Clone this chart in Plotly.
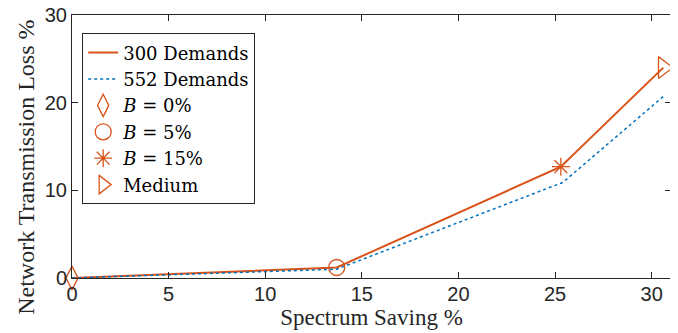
import plotly.graph_objects as go

# Data
x300 = [0, 13.7, 25.3, 30.6]
y300 = [0, 1.2, 12.7, 24.0]
x552 = [0, 13.7, 25.4, 30.6]
y552 = [0, 1.0, 10.9, 20.7]

marker_names = ["<i>B</i> = 0%", "<i>B</i> = 5%", "<i>B</i> = 15%", "Medium"]
marker_x = [0, 13.7, 25.3, 30.6]
marker_y = [0, 1.2, 12.7, 24.0]
marker_symbols = ["diamond-tall-open", "circle-open", "asterisk-open", "triangle-right-open"]
marker_sizes = [17, 16, 15, 19]

x_ticks = [0, 5, 10, 15, 20, 25, 30]
y_ticks = [0, 10, 20, 30]

x_title = "Spectrum Saving %"
y_title = "Network Transmission Loss %"

ORANGE = "#D95319"
BLUE = "#0072BD"
AXC = "#262626"

# The page body has an 8px default margin; size the figure so the plot area
# lands where the reference has it in the 678x333 window.
PAGE_OFF = 8

fig = go.Figure()
fig.add_trace(go.Scatter(x=x300, y=y300, mode="lines", name="300 Demands",
                         line=dict(color=ORANGE, width=2)))
fig.add_trace(go.Scatter(x=x552, y=y552, mode="lines", name="552 Demands",
                         line=dict(color=BLUE, width=1.5, dash="dot")))
for nm, xx, yy, sym, sz in zip(marker_names, marker_x, marker_y, marker_symbols, marker_sizes):
    fig.add_trace(go.Scatter(x=[xx], y=[yy], mode="markers", name=nm,
                             cliponaxis=False,
                             marker=dict(symbol=sym, size=sz, color=ORANGE,
                                         line=dict(color=ORANGE, width=1.3))))

fig.update_layout(
    width=678 - PAGE_OFF, height=333 - PAGE_OFF,
    margin=dict(l=72 - PAGE_OFF, r=7, t=15 - PAGE_OFF, b=55, autoexpand=False),
    paper_bgcolor="white", plot_bgcolor="white",
    showlegend=True,
    legend=dict(x=0.017, y=0.93, xanchor="left", yanchor="top",
                bgcolor="white", bordercolor=AXC, borderwidth=1,
                font=dict(family="DejaVu Serif", size=18, color="black"),
                itemwidth=30, tracegroupgap=0),
    font=dict(family="Liberation Sans", color=AXC),
)
fig.update_xaxes(range=[0, 31], tickvals=x_ticks, ticks="inside", ticklen=6,
                 tickcolor=AXC, showline=True, linecolor=AXC, linewidth=1,
                 mirror="ticks", showgrid=False, zeroline=False, automargin=False,
                 ticklabelstandoff=-2, ticklabeloverflow="allow",
                 tickfont=dict(family="Liberation Sans", size=20, color=AXC),
                 title=dict(text=x_title, standoff=1,
                            font=dict(family="Liberation Serif", size=23, color=AXC)))
fig.update_yaxes(range=[0, 30], tickvals=y_ticks, ticks="inside", ticklen=6,
                 tickcolor=AXC, showline=True, linecolor=AXC, linewidth=1,
                 mirror="ticks", showgrid=False, zeroline=False, automargin=False,
                 ticklabeloverflow="allow",
                 tickfont=dict(family="Liberation Sans", size=20, color=AXC))

# y-axis title placed as in the reference (centred a little below the plot centre)
fig.add_annotation(text=y_title, textangle=-90, xref="paper", yref="paper",
                   x=-0.078, y=0.42, xanchor="center", yanchor="middle",
                   showarrow=False,
                   font=dict(family="Liberation Serif", size=24, color=AXC))

fig.write_html("out.html")
